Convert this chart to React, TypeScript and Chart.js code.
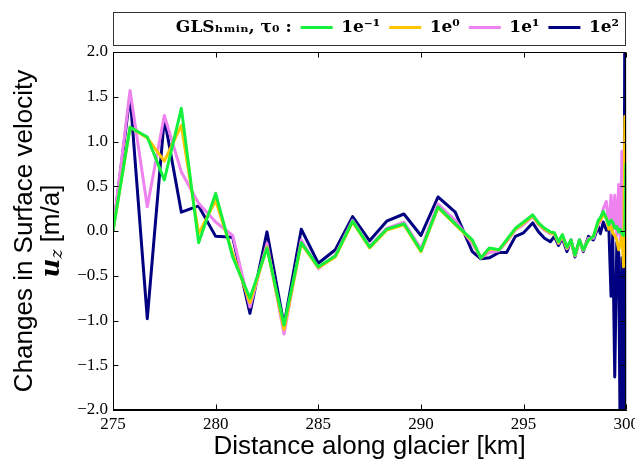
import React, { useEffect, useRef } from 'react';
import { Chart, registerables } from 'chart.js';

Chart.register(...registerables);

// Distance along glacier (km) – shared mesh of all runs
const distanceKm = [
  275.00, 275.83, 276.67, 277.50, 278.33, 279.17, 280.00, 280.83, 281.67, 282.50,
  283.33, 284.17, 285.00, 285.83, 286.67, 287.50, 288.33, 289.17, 290.00, 290.83,
  291.67, 292.50, 292.92, 293.33, 293.80, 294.17, 294.60, 295.00, 295.44, 295.73,
  296.02, 296.30, 296.50, 296.70, 296.89, 297.11, 297.31, 297.50, 297.72, 297.91,
  298.16, 298.40, 298.64, 298.74, 298.88, 299.03, 299.15, 299.26, 299.34, 299.44,
  299.54, 299.63, 299.71, 299.79, 299.87, 299.93, 299.98,
];

// Changes in surface velocity u_z [m/a]
const uzTau1eM1 = [
  0.00, 1.16, 1.05, 0.57, 1.37, -0.13, 0.42, -0.29, -0.75, -0.19,
  -1.05, -0.13, -0.40, -0.28, 0.11, -0.18, 0.02, 0.08, -0.22, 0.27,
  0.08, -0.10, -0.30, -0.19, -0.21, -0.10, 0.03, 0.10, 0.18, 0.09,
  0.03, -0.01, -0.02, -0.12, -0.04, -0.18, -0.10, -0.27, -0.10, -0.21,
  -0.10, -0.06, 0.12, 0.15, 0.22, 0.14, 0.07, 0.12, 0.10, 0.03,
  0.05, -0.01, 0.02, -0.03, -0.05, -0.03, 0.76,
];
const uzTau1e0 = [
  0.00, 1.16, 1.04, 0.78, 1.18, -0.03, 0.34, -0.25, -0.80, -0.18,
  -1.10, -0.14, -0.41, -0.29, 0.10, -0.19, 0.01, 0.07, -0.23, 0.26,
  0.07, -0.11, -0.30, -0.20, -0.21, -0.11, 0.02, 0.09, 0.17, 0.08,
  0.02, -0.02, -0.03, -0.13, -0.05, -0.19, -0.11, -0.27, -0.11, -0.21,
  -0.10, -0.06, 0.10, 0.12, 0.18, 0.15, 0.02, 0.05, -0.02, -0.05,
  -0.10, -0.21, -0.15, -0.05, -0.40, 1.28, -0.30,
];
const uzTau1e1 = [
  0.00, 1.57, 0.27, 1.29, 0.66, 0.31, 0.10, -0.05, -0.85, -0.14,
  -1.15, -0.10, -0.42, -0.27, 0.12, -0.17, 0.03, 0.10, -0.20, 0.30,
  0.12, -0.14, -0.30, -0.24, -0.22, -0.12, 0.01, 0.07, 0.16, 0.07,
  0.01, -0.03, -0.03, -0.14, -0.06, -0.20, -0.11, -0.28, -0.11, -0.22,
  -0.08, -0.08, 0.08, 0.10, 0.25, 0.33, 0.05, 0.40, 0.00, 0.40,
  -0.05, 0.52, -0.10, 0.89, -0.20, 0.90, 0.30,
];
const uzTau1e2 = [
  0.00, 1.52, -0.98, 1.26, 0.21, 0.28, -0.06, -0.07, -0.92, -0.01,
  -1.05, 0.02, -0.36, -0.21, 0.16, -0.11, 0.11, 0.19, -0.05, 0.38,
  0.21, -0.23, -0.31, -0.30, -0.24, -0.24, -0.06, -0.02, 0.09, -0.01,
  -0.08, -0.12, -0.06, -0.16, -0.08, -0.23, -0.10, -0.29, -0.10, -0.23,
  -0.06, -0.10, 0.05, -0.03, 0.10, 0.01, 0.05, -0.73, -0.03, -1.63,
  -0.13, -0.25, -2.5, -0.30, -2.5, 2.5, -2.5,
];

const seriesLabels = ['1e⁻¹', '1e⁰', '1e¹', '1e²'];
const seriesColors = ['#14f03c', '#ffc400', '#ee82ee', '#000080'];
const legendHeading = 'GLSₕₘᵢₙ, τ₀ :';
const xTitle = 'Distance along glacier [km]';
const yTitleLine1 = 'Changes in Surface velocity';
const yTitleUnit = ' [m/a]';

const SERIF = "'Liberation Serif', serif";
const SANS = "'Liberation Sans', Arial, sans-serif";
const LEGEND_FONT = "'DejaVu Serif', serif";

const framePlugin = {
  id: 'frameAndExtras',
  afterDraw(chart: any) {
    const { ctx, chartArea: a, scales, legend } = chart;
    ctx.save();
    ctx.strokeStyle = '#000';
    ctx.lineWidth = 1;
    const L = Math.round(a.left) + 0.5;
    const R = Math.round(a.right) - 0.5;
    const T = Math.round(a.top) + 0.5;
    const B = Math.round(a.bottom) - 0.5;
    ctx.strokeRect(L, T, R - L, B - T);
    const tl = 5;
    ctx.beginPath();
    scales.x.ticks.forEach((t: any) => {
      const px = Math.round(scales.x.getPixelForValue(t.value)) + 0.5;
      ctx.moveTo(px, B); ctx.lineTo(px, B - tl);
      ctx.moveTo(px, T); ctx.lineTo(px, T + tl);
    });
    scales.y.ticks.forEach((t: any) => {
      const py = Math.round(scales.y.getPixelForValue(t.value)) + 0.5;
      ctx.moveTo(L, py); ctx.lineTo(L + tl, py);
      ctx.moveTo(R, py); ctx.lineTo(R - tl, py);
    });
    ctx.stroke();
    // legend frame
    if (legend) {
      const lt = Math.round(legend.top) + 2.5;
      const lb = Math.round(legend.bottom) - 0.5;
      ctx.strokeStyle = '#333';
      ctx.strokeRect(L, lt, R - L, lb - lt);
    }
    // second line of the y-axis title: u_z [m/a]
    const cx = 44;
    const cy = (a.top + a.bottom) / 2;
    ctx.translate(cx, cy);
    ctx.rotate(-Math.PI / 2);
    ctx.fillStyle = '#000';
    ctx.textBaseline = 'middle';
    ctx.textAlign = 'left';
    const fU = `italic bold 26px 'DejaVu Serif', serif`;
    const fZ = `italic 17px 'DejaVu Serif', serif`;
    const fR = `26px ${SANS}`;
    ctx.font = fU; const wU = ctx.measureText('u').width;
    ctx.font = fZ; const wZ = ctx.measureText('z').width;
    ctx.font = fR; const wR = ctx.measureText(yTitleUnit).width;
    let x = -(wU + wZ + wR) / 2;
    ctx.font = fU; ctx.fillText('u', x, 0); x += wU;
    ctx.font = fZ; ctx.fillText('z', x, 6); x += wZ;
    ctx.font = fR; ctx.fillText(yTitleUnit, x, 0);
    ctx.restore();
  },
};

export default function App() {
  const ref = useRef<HTMLCanvasElement>(null);
  useEffect(() => {
    document.body.style.overflow = 'hidden';
    const canvas = ref.current;
    if (!canvas) return;
    const series = [uzTau1eM1, uzTau1e0, uzTau1e1, uzTau1e2];
    const chart = new Chart(canvas, {
      type: 'line',
      data: {
        datasets: series.map((ys, i) => ({
          label: seriesLabels[i],
          data: distanceKm.map((x, j) => ({ x, y: ys[j] })),
          xAxisID: 'x',
          yAxisID: 'y',
          borderColor: seriesColors[i],
          backgroundColor: seriesColors[i],
          borderWidth: 3,
          pointRadius: 0,
          tension: 0,
          fill: false,
          borderJoinStyle: 'round',
        })),
      },
      options: {
        responsive: false,
        animation: false,
        devicePixelRatio: 1,
        layout: { padding: { left: 0, right: 15, top: 2, bottom: 8 } },
        plugins: {
          legend: {
            position: 'top',
            align: 'end',
            onClick: () => {},
            labels: {
              usePointStyle: true,
              pointStyle: 'line',
              pointStyleWidth: 32,
              padding: 9,
              color: '#000',
              font: { family: LEGEND_FONT, size: 17, weight: 'bold' },
              generateLabels: (ch: any) => {
                const items = Chart.defaults.plugins.legend.labels.generateLabels(ch);
                items.forEach((it: any) => {
                  it.lineWidth = 3;
                  it.pointStyle = 'line';
                });
                return [
                  {
                    text: legendHeading,
                    fillStyle: 'rgba(0,0,0,0)',
                    strokeStyle: 'rgba(0,0,0,0)',
                    lineWidth: 0,
                    hidden: false,
                    pointStyle: 'line',
                    fontColor: '#000',
                  },
                  ...items,
                ];
              },
            },
          },
          tooltip: { enabled: false },
        },
        scales: {
          x: {
            type: 'linear',
            position: 'bottom',
            min: 275,
            max: 300,
            ticks: {
              stepSize: 5,
              color: '#000',
              padding: 4,
              maxRotation: 0,
              font: { family: SERIF, size: 17 },
              callback: (v: any) => Number(v).toFixed(0),
            },
            grid: { display: false, drawTicks: false },
            border: { display: true, color: '#000' },
            title: {
              display: true,
              text: xTitle,
              color: '#000',
              font: { family: SANS, size: 26, lineHeight: 1.05 },
              padding: { top: 0, bottom: 10 },
            },
            afterFit: (s: any) => { s.height = 60; },
          },
          xTop: {
            type: 'linear',
            position: 'top',
            min: 0,
            max: 1,
            ticks: { display: false },
            grid: { display: false, drawTicks: false },
            border: { display: false },
            afterFit: (s: any) => { s.height = 6; },
          },
          y: {
            type: 'linear',
            min: -2,
            max: 2,
            ticks: {
              stepSize: 0.5,
              color: '#000',
              padding: 5,
              font: { family: SERIF, size: 17 },
              callback: (v: any) => Number(v).toFixed(1).replace('-', '\u2212'),
            },
            grid: { display: false, drawTicks: false },
            border: { display: true, color: '#000' },
            title: {
              display: true,
              text: [yTitleLine1, ''],
              color: '#000',
              font: { family: SANS, size: 26, lineHeight: 1.05 },
              padding: { top: 3, bottom: 0 },
            },
            afterFit: (s: any) => { s.width = 105; },
          },
        },
      },
      plugins: [framePlugin],
    } as any);
    return () => chart.destroy();
  }, []);
  return <canvas ref={ref} width={635} height={470} style={{ display: 'block' }} />;
}
